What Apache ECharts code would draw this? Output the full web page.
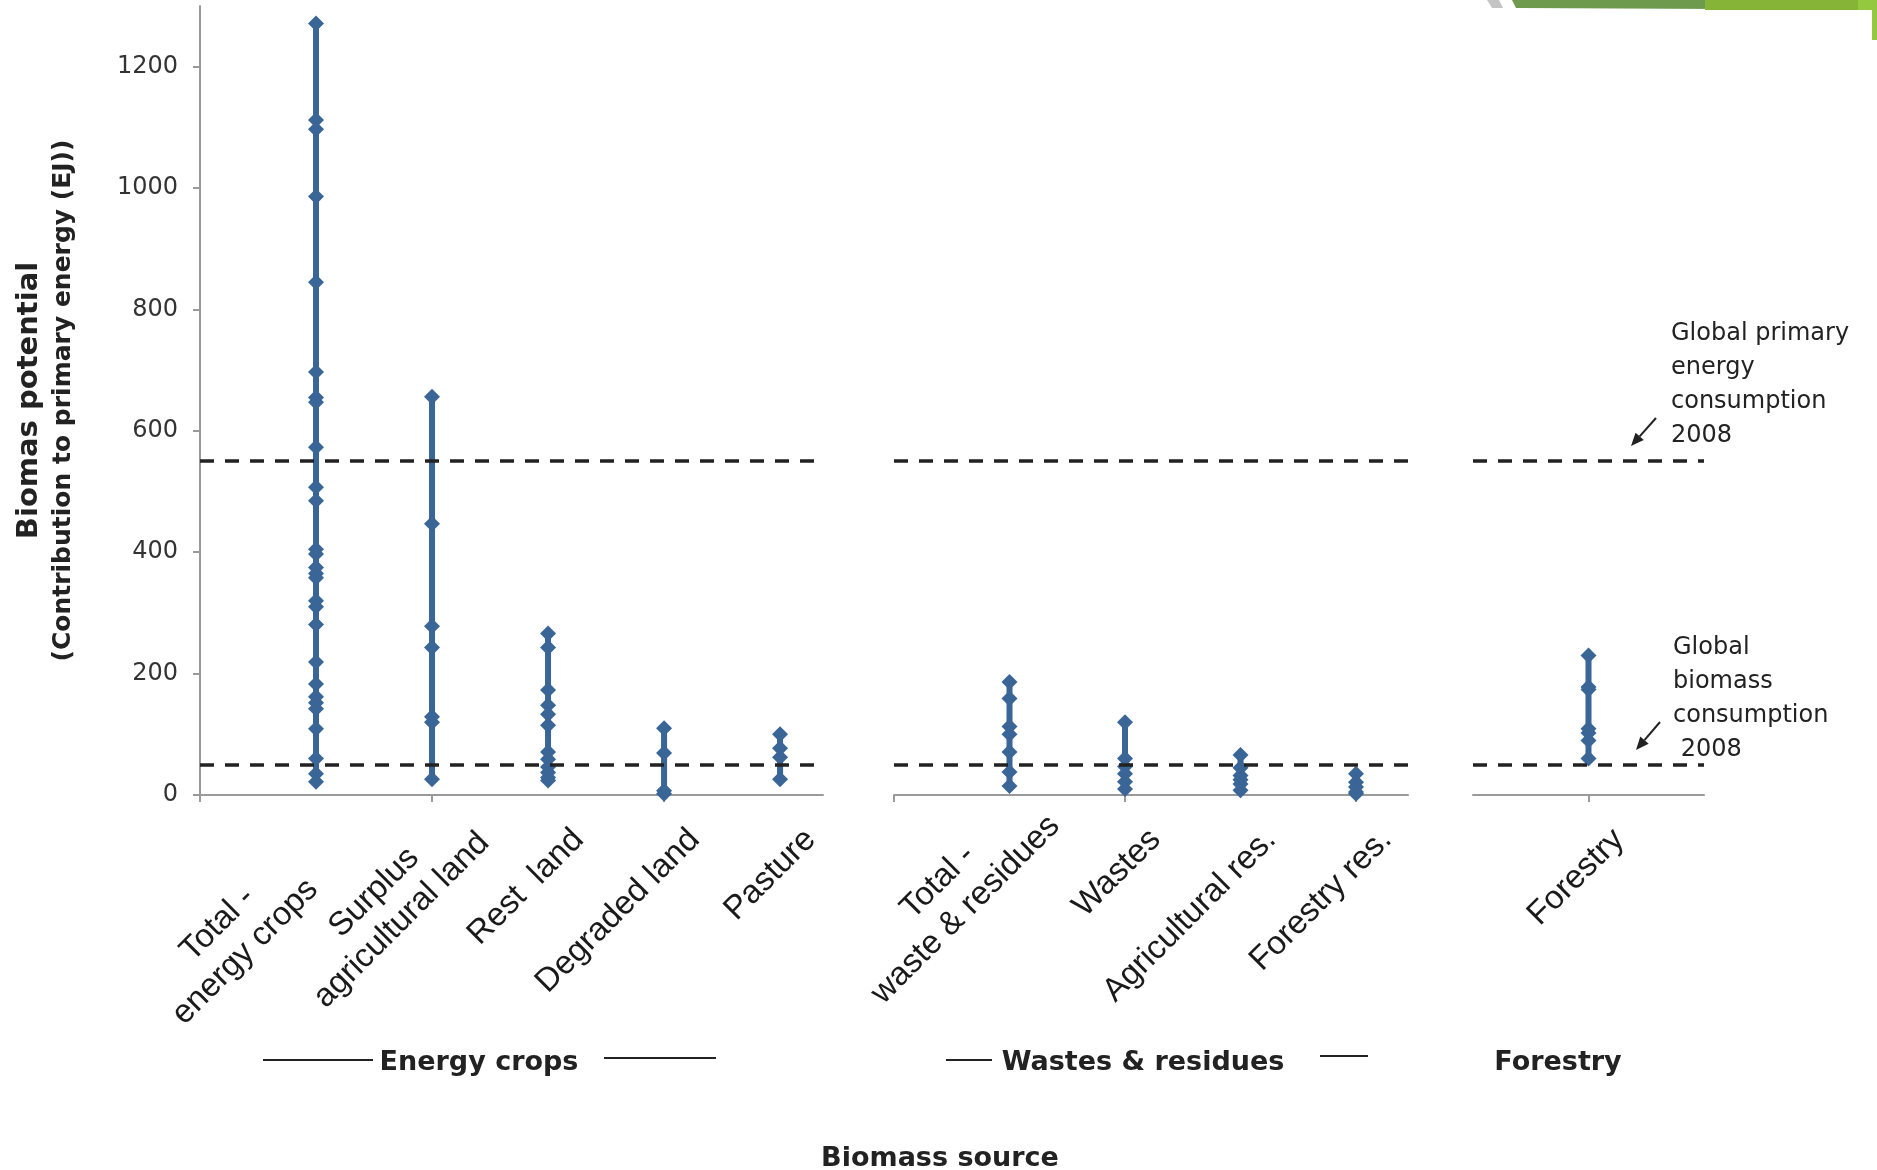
<!DOCTYPE html>
<html>
<head>
<meta charset="utf-8">
<script src="https://cdn.jsdelivr.net/npm/echarts@6/dist/echarts.min.js"></script>
<style>
  html, body { margin: 0; padding: 0; background: #ffffff; }
  #chart { width: 1877px; height: 1170px; }
</style>
</head>
<body>
<div id="chart"></div>
<script>
// Source categories, one list per group
const energyCategories = ['Total -\nenergy crops', 'Surplus\nagricultural land', 'Rest  land', 'Degraded land', 'Pasture'];
const wasteCategories = ['Total -\nwaste & residues', 'Wastes', 'Agricultural res.', 'Forestry res.'];
const forestryCategories = ['Forestry'];

// Biomass potential estimates (EJ) for each source
const totalEnergyCrops = [1271, 1112, 1097, 986, 845, 697, 655, 647, 573, 507, 485, 405, 397, 375, 365, 358, 320, 310, 281, 219, 183, 162, 152, 142, 109, 60, 35, 22];
const surplusAgriculturalLand = [656, 447, 278, 243, 129, 120, 26];
const restLand = [266, 243, 173, 148, 133, 115, 71, 59, 46, 37, 29, 24];
const degradedLand = [110, 69, 7, 2];
const pasture = [100, 77, 62, 26];
const totalWasteResidues = [186, 159, 113, 100, 71, 38, 15];
const wastes = [120, 60, 47, 35, 22, 10];
const agriculturalResidues = [66, 45, 32, 25, 18, 8];
const forestryResidues = [35, 21, 13, 5, 2];
const forestry = [230, 178, 174, 109, 102, 90, 60];

// Reference levels (EJ)
const primaryEnergy2008 = 550;
const biomassConsumption2008 = 50;

// Value axis ticks
const yTicks = [0, 200, 400, 600, 800, 1000, 1200];

const BLUE = '#3a6597';
const INK = '#222222';
const AXIS_GREY = '#9a9a9a';

// Fine placement of the two-line category labels:
// [shift along the text direction, shift across it] in px
const labelNudges = {
  'Total -\nenergy crops': [-59, -8],
  'Surplus\nagricultural land': [13, -2],
  'Total -\nwaste & residues': [20, -19]
};
const BASE_SHIFT = 30;

const groups = [
  { categories: energyCategories, values: [totalEnergyCrops, surplusAgriculturalLand, restLand, degradedLand, pasture], xMax: 5.37, ticks: [0, 2, 4] },
  { categories: wasteCategories, values: [totalWasteResidues, wastes, agriculturalResidues, forestryResidues], xMax: 4.45, ticks: [0, 2, 4] },
  { categories: forestryCategories, values: [forestry], xMax: 2, ticks: [1] }
];

const grids = [
  { left: 200, top: 6, width: 623, height: 789 },
  { left: 894, top: 6, width: 514, height: 789 },
  { left: 1473, top: 6, width: 231, height: 789 }
];

// Rich styles for the rotated category labels
const labelRich = {
  c: { fontFamily: 'Liberation Sans', fontSize: 33, lineHeight: 39, color: '#1a1a1a', align: 'center' }
};
function spacerStyle(w) {
  const key = 'w' + Math.round(w);
  if (!labelRich[key]) labelRich[key] = { width: Math.round(w), fontSize: 2, lineHeight: 2, align: 'right' };
  return key;
}
function gapStyle(h) {
  const key = 'h' + Math.round(h);
  if (!labelRich[key]) labelRich[key] = { width: 1, fontSize: 2, lineHeight: Math.round(h), align: 'right' };
  return key;
}

function categoryLabel(categories) {
  return function (value) {
    const name = categories[Math.round(value) - 1];
    if (!name) return '';
    const nudge = labelNudges[name] || [0, 0];
    const tail = '{' + spacerStyle(BASE_SHIFT - nudge[0]) + '| }';
    const lines = name.split('\n').map(function (line) { return '{c|' + line + '}' + tail; });
    if (nudge[1] < 0) lines.push('{' + gapStyle(-2 * nudge[1]) + '| }');
    if (nudge[1] > 0) lines.unshift('{' + gapStyle(2 * nudge[1]) + '| }');
    return lines.join('\n');
  };
}

// register every spacer style before the option is built
groups.forEach(function (g) {
  g.categories.forEach(function (name) {
    const nudge = labelNudges[name] || [0, 0];
    spacerStyle(BASE_SHIFT - nudge[0]);
    if (nudge[1] !== 0) gapStyle(2 * Math.abs(nudge[1]));
  });
});

const xAxes = groups.map(function (g, i) {
  return {
    type: 'value',
    gridIndex: i,
    min: 0,
    max: g.xMax,
    splitLine: { show: false },
    axisLine: { show: true, onZero: false, lineStyle: { color: AXIS_GREY, width: 2 } },
    axisTick: { show: true, customValues: g.ticks, length: 7, lineStyle: { color: AXIS_GREY, width: 2 } },
    axisLabel: {
      show: true,
      customValues: g.categories.map(function (_, k) { return k + 1; }),
      rotate: 45,
      margin: 70,
      padding: [0, -(43 + BASE_SHIFT), 0, 0],
      formatter: categoryLabel(g.categories),
      rich: labelRich
    }
  };
});

const yAxes = groups.map(function (g, i) {
  const first = i === 0;
  return {
    type: 'value',
    gridIndex: i,
    min: 0,
    max: 1300,
    show: first,
    splitLine: { show: false },
    axisLine: { show: first, lineStyle: { color: AXIS_GREY, width: 2 } },
    axisTick: { show: first, customValues: yTicks, length: 7, lineStyle: { color: AXIS_GREY, width: 2 } },
    axisLabel: {
      show: first,
      customValues: yTicks,
      margin: 22,
      fontFamily: 'DejaVu Sans',
      fontSize: 24,
      color: '#333333',
      formatter: function (v) { return String(v); }
    },
    name: first ? '{t|Biomas potential}\n{s|(Contribution to primary energy (EJ))}' : '',
    nameLocation: 'middle',
    nameRotate: 90,
    nameGap: 121,
    nameTextStyle: {
      rich: {
        t: { fontFamily: 'DejaVu Sans', fontWeight: 'bold', fontSize: 29, lineHeight: 36, color: INK, align: 'center' },
        s: { fontFamily: 'DejaVu Sans', fontWeight: 'bold', fontSize: 25, lineHeight: 32, color: INK, align: 'center' }
      }
    }
  };
});

const series = [];
groups.forEach(function (g, i) {
  g.values.forEach(function (vals, k) {
    const s = {
      type: 'line',
      name: g.categories[k].replace('\n', ' '),
      xAxisIndex: i,
      yAxisIndex: i,
      data: vals.map(function (v) { return [k + 1, v]; }),
      symbol: 'diamond',
      symbolSize: 16,
      showAllSymbol: true,
      lineStyle: { color: BLUE, width: 6 },
      itemStyle: { color: BLUE },
      animation: false,
      silent: true
    };
    if (k === 0) {
      s.markLine = {
        silent: true,
        symbol: 'none',
        label: { show: false },
        animation: false,
        lineStyle: { color: INK, width: 3.5, type: [14, 11] },
        data: [{ yAxis: primaryEnergy2008 }, { yAxis: biomassConsumption2008 }]
      };
    }
    series.push(s);
  });
});

// Leader arrow from an annotation towards its reference line
function arrow(x1, y1, x2, y2) {
  const dx = x2 - x1, dy = y2 - y1;
  const len = Math.sqrt(dx * dx + dy * dy);
  const ux = dx / len, uy = dy / len;
  const head = 13, half = 5.5;
  const bx = x2 - ux * head, by = y2 - uy * head;
  return [
    { type: 'line', shape: { x1: x1, y1: y1, x2: bx, y2: by }, style: { stroke: INK, lineWidth: 2 } },
    { type: 'polygon', shape: { points: [[x2, y2], [bx - uy * half, by + ux * half], [bx + uy * half, by - ux * half]] }, style: { fill: INK } }
  ];
}

const boldFont = 'bold 27px "DejaVu Sans"';
const noteFont = '24px "DejaVu Sans"';

const graphics = [
  // slide header ribbon
  { type: 'polygon', shape: { points: [[1487, 0], [1499, 0], [1503, 8], [1492, 8]] }, style: { fill: '#c4c4c4' } },
  { type: 'polygon', shape: { points: [[1512, 0], [1720, 0], [1720, 9], [1516, 8]] }, style: { fill: '#6e9a4e' } },
  { type: 'rect', shape: { x: 1705, y: 0, width: 155, height: 10 }, style: { fill: '#86b436' } },
  { type: 'rect', shape: { x: 1858, y: 0, width: 19, height: 10 }, style: { fill: '#93c83f' } },
  { type: 'rect', shape: { x: 1872, y: 0, width: 5, height: 40 }, style: { fill: '#93c83f' } },

  // group captions under the categories
  { type: 'line', shape: { x1: 263, y1: 1060, x2: 373, y2: 1060 }, style: { stroke: INK, lineWidth: 2 } },
  { type: 'text', x: 479, y: 1063, style: { text: 'Energy crops', font: boldFont, fill: INK, align: 'center', verticalAlign: 'middle' } },
  { type: 'line', shape: { x1: 604, y1: 1058, x2: 716, y2: 1058 }, style: { stroke: INK, lineWidth: 2 } },
  { type: 'line', shape: { x1: 946, y1: 1060, x2: 992, y2: 1060 }, style: { stroke: INK, lineWidth: 2 } },
  { type: 'text', x: 1143, y: 1063, style: { text: 'Wastes & residues', font: boldFont, fill: INK, align: 'center', verticalAlign: 'middle' } },
  { type: 'line', shape: { x1: 1320, y1: 1056, x2: 1368, y2: 1056 }, style: { stroke: INK, lineWidth: 2 } },
  { type: 'text', x: 1558, y: 1063, style: { text: 'Forestry', font: boldFont, fill: INK, align: 'center', verticalAlign: 'middle' } },
  { type: 'text', x: 940, y: 1159, style: { text: 'Biomass source', font: boldFont, fill: INK, align: 'center', verticalAlign: 'middle' } },

  // reference line notes
  { type: 'text', x: 1671, y: 317, style: { text: 'Global primary\nenergy\nconsumption\n2008', font: noteFont, fill: INK, lineHeight: 34 } },
  { type: 'text', x: 1673, y: 631, style: { text: 'Global\nbiomass\nconsumption\n 2008', font: noteFont, fill: INK, lineHeight: 34 } }
].concat(arrow(1656, 418, 1631, 446), arrow(1660, 722, 1636, 750));

const chart = echarts.init(document.getElementById('chart'), null, { renderer: 'canvas' });
chart.setOption({
  backgroundColor: '#ffffff',
  animation: false,
  grid: grids,
  xAxis: xAxes,
  yAxis: yAxes,
  series: series,
  graphic: { elements: graphics }
});
</script>
</body>
</html>
